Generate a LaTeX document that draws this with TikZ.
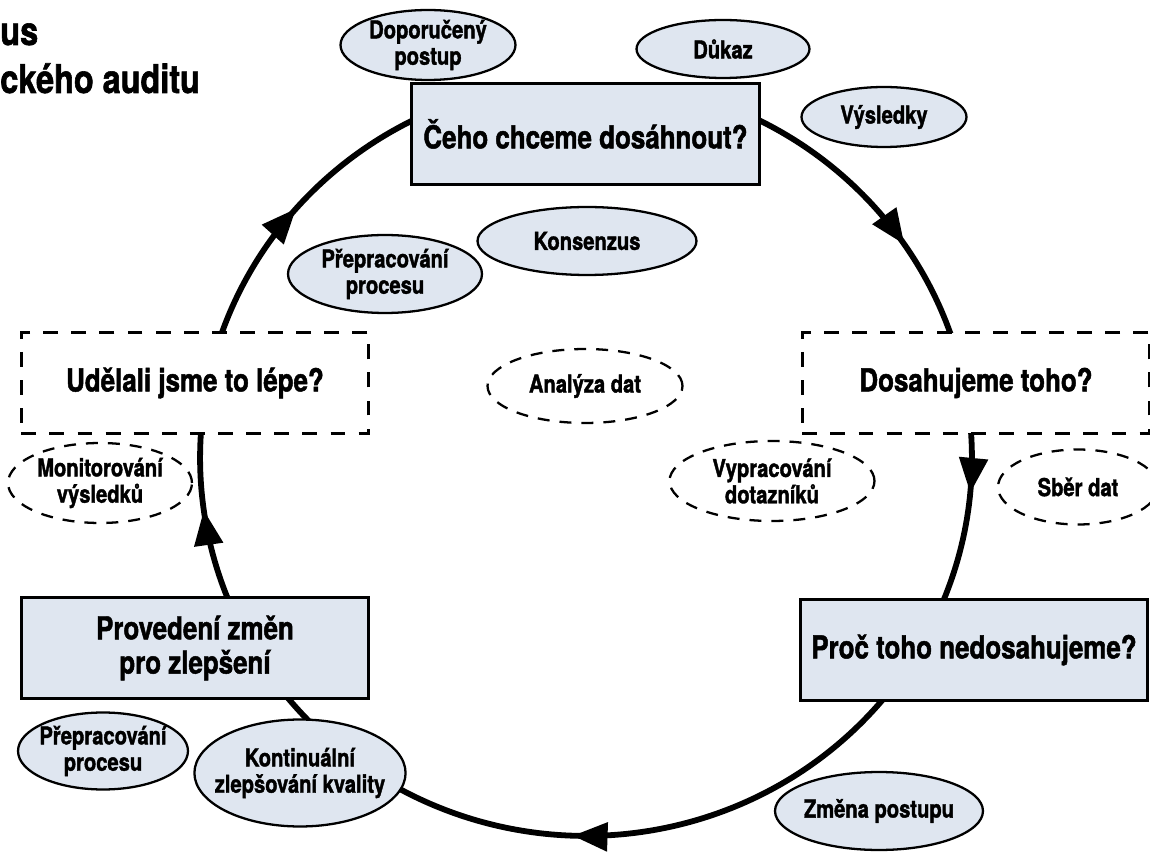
\documentclass[tikz,border=0pt]{standalone}
\usepackage{fontspec}
\setmainfont{TeX Gyre Heros}[FakeStretch=0.82, BoldFeatures={FakeBold=1.5}]
\usetikzlibrary{arrows.meta, positioning, shapes.geometric, calc, decorations.markings, backgrounds}
\definecolor{boxfill}{RGB}{223,230,240}

\begin{document}
\begin{tikzpicture}[x=0.02cm, y=0.02cm,
  qbox/.style={rectangle, draw=black, line width=1.7pt, fill=boxfill,
               minimum width=6.95cm, minimum height=2.02cm, align=center,
               font=\bfseries\fontsize{18}{19.5}\selectfont},
  qdash/.style={qbox, fill=white, dash pattern=on 8.5pt off 7.5pt},
  bub/.style={ellipse, draw=black, line width=1.3pt, fill=boxfill, inner sep=-6pt,
              align=center, font=\bfseries\fontsize{14}{15}\selectfont},
  bubdash/.style={bub, fill=white, dash pattern=on 6.8pt off 5.7pt},
  ttl/.style={inner sep=0pt, anchor=base west, font=\bfseries\fontsize{22.5}{24}\selectfont},
  cyc/.style={line width=3.3pt},
  arrowat/.style={postaction={decorate}, decoration={markings,
      mark=at position #1 with {\arrow{Triangle[length=0.7cm, width=0.56cm]}}}}
]
  \useasboundingbox (0,0) rectangle (1150,863);

  % title, cut at the left edge
  \node[ttl] (ttla) at (0,818) {us};
  \node[ttl] (ttlb) at (0,770) {ckého auditu};

  % the five questions
  \node[qbox]  (goal)    at (585.5,729) {Čeho chceme dosáhnout?};
  \node[qdash] (reach)   at (976,480)   {Dosahujeme toho?};
  \node[qbox]  (why)     at (974,213)   {Proč toho nedosahujeme?};
  \node[qbox]  (change)  at (195,215)   {Provedení změn\\pro zlepšení};
  \node[qdash] (better)  at (195,480)   {Udělali jsme to lépe?};

  % bubbles
  \node[bub, minimum width=3.5cm,  minimum height=1.4cm]  (guide)   at (428,818) {Doporučený\\postup};
  \node[bub, minimum width=3.46cm, minimum height=1.16cm] (proof)   at (723,814) {Důkaz};
  \node[bub, minimum width=3.3cm,  minimum height=1.2cm]  (results) at (884,746) {Výsledky};
  \node[bub, minimum width=4.38cm, minimum height=1.36cm] (consens) at (587,622) {Konsenzus};
  \node[bub, minimum width=3.88cm, minimum height=1.56cm] (rework)  at (385,589) {Přepracování\\procesu};
  \node[bubdash, minimum width=3.9cm,  minimum height=1.48cm] (analys)  at (585,477) {Analýza dat};
  \node[bubdash, minimum width=4.1cm,  minimum height=1.6cm]  (quest)   at (772,382) {Vypracování\\dotazníků};
  \node[bubdash, minimum width=3.2cm,  minimum height=1.5cm]  (collect) at (1078,376) {Sběr dat};
  \node[bubdash, minimum width=3.68cm, minimum height=1.6cm]  (monitor) at (100,380) {Monitorování\\výsledků};
  \node[bub, minimum width=3.4cm,  minimum height=1.54cm] (rework2) at (103,112) {Přepracování\\procesu};
  \node[bub, minimum width=4.2cm,  minimum height=2.14cm] (cqi)     at (300,90)  {Kontinuální\\zlepšování kvality};
  \node[bub, minimum width=4.16cm, minimum height=1.56cm] (newway)  at (879,52)  {Změna postupu};

  % the cycle, behind the boxes
  \coordinate (c) at (586,405);
  \begin{scope}[on background layer]
    \draw[cyc, arrowat=0.649] ($(c)+(70:7.72cm and 7.56cm)$)
      arc[start angle=70, end angle=15, x radius=7.72cm, y radius=7.56cm];
    \draw[cyc, arrowat=0.391] ($(c)+(8:7.72cm and 7.56cm)$)
      arc[start angle=8, end angle=-26, x radius=7.72cm, y radius=7.56cm];
    \draw[cyc, arrowat=0.539] ($(c)+(-30:7.72cm and 7.56cm)$)
      arc[start angle=-30, end angle=-145, x radius=7.72cm, y radius=7.56cm];
    \draw[cyc, arrowat=0.491] ($(c)+(210:7.72cm and 7.56cm)$)
      arc[start angle=210, end angle=165, x radius=7.72cm, y radius=7.56cm];
    \draw[cyc, arrowat=0.446] ($(c)+(162:7.72cm and 7.56cm)$)
      arc[start angle=162, end angle=110, x radius=7.72cm, y radius=7.56cm];
  \end{scope}
\end{tikzpicture}
\end{document}
